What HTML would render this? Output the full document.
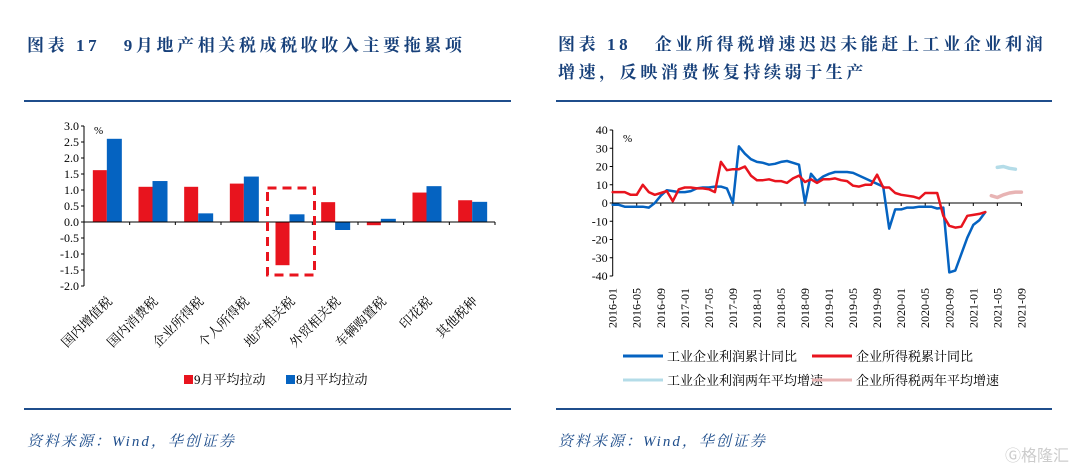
<!DOCTYPE html>
<html><head><meta charset="utf-8">
<style>
body{margin:0;width:1080px;height:469px;background:#fff;overflow:hidden;position:relative;font-family:"Liberation Serif","Noto Serif CJK SC",serif;}
.t{position:absolute;color:#17407a;font-weight:bold;font-size:17px;letter-spacing:3.6px;white-space:nowrap;font-family:"Liberation Serif","Noto Serif CJK SC",serif;}
.hr{position:absolute;height:2px;background:#1f4e8c;}
.src{position:absolute;color:#1f4e8c;font-style:italic;font-size:15px;letter-spacing:2px;font-family:"Liberation Serif","Noto Serif CJK SC",serif;}
svg text{font-family:"Liberation Serif","Noto Serif CJK SC",serif;}
</style></head><body>
<div class="t" style="left:27px;top:31px">图表 17&nbsp;&nbsp;&nbsp;9月地产相关税成税收收入主要拖累项</div>
<div class="t" style="left:558px;top:31px;line-height:28px">图表 18&nbsp;&nbsp;&nbsp;企业所得税增速迟迟未能赶上工业企业利润<br>增速，反映消费恢复持续弱于生产</div>
<div class="hr" style="left:24px;top:100px;width:487px"></div>
<div class="hr" style="left:556px;top:100px;width:496px"></div>
<div class="hr" style="left:24px;top:408px;width:487px"></div>
<div class="hr" style="left:556px;top:408px;width:496px"></div>
<div class="src" style="left:27px;top:430px">资料来源：Wind，华创证券</div>
<div class="src" style="left:558px;top:430px">资料来源：Wind，华创证券</div>
<div style="position:absolute;left:1005px;top:442px;color:#ccc;font-size:16px;font-family:'Noto Sans CJK SC',sans-serif">Ⓖ格隆汇</div>
<svg id="c1" width="540" height="409" style="position:absolute;left:0;top:0"></svg>
<svg id="c2" width="540" height="409" style="position:absolute;left:540px;top:0"></svg>
<script>
const cats=["国内增值税","国内消费税","企业所得税","个人所得税","地产相关税","外贸相关税","车辆购置税","印花税","其他税种"];
const sepVals=[1.62,1.1,1.1,1.2,-1.35,0.62,-0.1,0.92,0.68];
const augVals=[2.6,1.28,0.27,1.42,0.24,-0.25,0.1,1.12,0.63];
const yTicks1=["3.0","2.5","2.0","1.5","1.0","0.5","0.0","-0.5","-1.0","-1.5","-2.0"];

const months=[];for(let y=2016;y<=2021;y++)for(let m=1;m<=12;m++){if(y==2021&&m>9)break;months.push(y+"-"+String(m).padStart(2,"0"));}
const profit=[-1,-1,-2,-2,-2,-2,-2.5,0,4,7,6.5,6,6,6.5,8,8.5,8.5,9,9,8,0,31,27,24,22.5,22,21,21.5,22.5,23,22,21,0,16,12,14.5,16,17,17,17,16.5,15,13.5,12,10.5,9,-14,-3.5,-3.5,-2.5,-2.5,-2,-2,-2,-3,-2.5,-38,-37,-28,-19,-12,-9.5,-5];
const tax=[6,6,6,4.5,4.5,10,6,4.5,5.5,6.5,1,7.5,8.5,8.5,8,8,7.5,6,22.5,18,18.5,18.5,20,15,12.5,12.5,13,12,12,11,13.5,15,11.5,13,11,13,13,13.5,12.5,12,9.5,9,10,10,15.5,8.5,8.5,5.5,4.5,4,3.5,2.5,5.5,5.5,5.5,-7,-12.5,-13.5,-13,-7,-6.5,-6,-5];
const profit2Start=64;const profit2=[19.5,20,19,18.5];
const tax2Start=63;const tax2=[4,3,4.5,5.5,6,6];
const yTicks2=[40,30,20,10,0,-10,-20,-30,-40];

const NS="http://www.w3.org/2000/svg";
function mk(p,tag,at,txt){const e=document.createElementNS(NS,tag);for(const k in at)e.setAttribute(k,at[k]);if(txt!=null)e.textContent=txt;p.appendChild(e);return e;}

// chart 1
(function(){
const s=document.getElementById('c1');
const x0=84,x1=495,yTop=126,yBot=286,vmax=3,vmin=-2;
const y=v=>yTop+(vmax-v)/(vmax-vmin)*(yBot-yTop);
const bw=(x1-x0)/cats.length;
let e;
e=mk(s,'line',{x1:x0,y1:yTop,x2:x0,y2:yBot,stroke:'#000','stroke-width':1});

yTicks1.forEach(t=>{const v=parseFloat(t);const yy=y(v);
 mk(s,'line',{x1:x0-3,y1:yy,x2:x0,y2:yy,stroke:'#000'});
 e=mk(s,'text',{x:x0-5,y:yy+4,'text-anchor':'end','font-size':12},t);
 });
e=mk(s,'text',{x:94,y:134,'font-size':11},'%');

cats.forEach((c,i)=>{
 const cx=x0+bw*(i+0.5);
 const r=sepVals[i],b=augVals[i];
 e=mk(s,'rect',{x:cx-14,y:Math.min(y(r),y(0)),width:14,height:Math.abs(y(r)-y(0)),fill:'#e8141e'});
 
 e=mk(s,'rect',{x:cx,y:Math.min(y(b),y(0)),width:15,height:Math.abs(y(b)-y(0)),fill:'#0563c1'});
 
 mk(s,'line',{x1:x0+bw*(i+1),y1:y(0),x2:x0+bw*(i+1),y2:y(0)+3,stroke:'#000'});
 e=mk(s,'text',{x:cx+6,y:y(-2)+16,'text-anchor':'end','font-size':13,transform:`rotate(-45 ${cx+6} ${y(-2)+16})`},c);
 
});
e=mk(s,'line',{x1:x0,y1:y(0),x2:x1,y2:y(0),stroke:'#000'});

const hx=x0+bw*4.5;
e=mk(s,'rect',{x:hx-22,y:188,width:47,height:87,fill:'none',stroke:'#e8141e','stroke-width':3,'stroke-dasharray':'9,6'});

e=mk(s,'rect',{x:184,y:375,width:9,height:9,fill:'#e8141e'});
e=mk(s,'text',{x:194,y:384,'font-size':13},'9月平均拉动');
e=mk(s,'rect',{x:286,y:375,width:9,height:9,fill:'#0563c1'});
e=mk(s,'text',{x:296,y:384,'font-size':13},'8月平均拉动');
})();

// chart 2
(function(){
const s=document.getElementById('c2');
const ox=-540;
const x0=612.7+ox,yTop=130,yBot=276,step=6.01;
const x=i=>x0+i*step;
const y=v=>yTop+(40-v)/80*(yBot-yTop);
let e;
e=mk(s,'line',{x1:x0,y1:yTop,x2:x0,y2:yBot,stroke:'#000'});

yTicks2.forEach(v=>{const yy=y(v);
 mk(s,'line',{x1:x0-3,y1:yy,x2:x0,y2:yy,stroke:'#000'});
 e=mk(s,'text',{x:x0-5,y:yy+4,'text-anchor':'end','font-size':12},String(v));
 });
e=mk(s,'text',{x:623+ox,y:142,'font-size':11},'%');
e=mk(s,'line',{x1:x0,y1:y(0),x2:x(months.length-1),y2:y(0),stroke:'#000'});

months.forEach((m,i)=>{if(i%4)return;const xx=x(i);
 mk(s,'line',{x1:xx,y1:y(0),x2:xx,y2:y(0)+3,stroke:'#000'});
 e=mk(s,'text',{x:xx+4,y:288,'text-anchor':'end','font-size':12,transform:`rotate(-90 ${xx+4} 288)`},m);
 });
function line(arr,start,col,w,name){const d=arr.map((v,i)=>(i?'L':'M')+x(start+i).toFixed(1)+','+y(v).toFixed(1)).join('');
 const p=mk(s,'path',{d:d,fill:'none',stroke:col,'stroke-width':w,'stroke-linejoin':'round','stroke-linecap':'round'});
 }
line(profit,0,'#0563c1',2.5,'profit-line');
line(tax,0,'#e8141e',2.5,'tax-line');
line(profit2,profit2Start,'#b4dce8',3.5,'profit-2yr-line');
line(tax2,tax2Start,'#e8b4b4',3.5,'tax-2yr-line');
const L=[[623,356,'#0563c1','工业企业利润累计同比','legend-profit'],[812,356,'#e8141e','企业所得税累计同比','legend-tax'],[623,380,'#b4dce8','工业企业利润两年平均增速','legend-profit-2yr'],[812,380,'#e8b4b4','企业所得税两年平均增速','legend-tax-2yr']];
L.forEach(l=>{mk(s,'line',{x1:l[0]+ox,y1:l[1],x2:l[0]+40+ox,y2:l[1],stroke:l[2],'stroke-width':3});
 e=mk(s,'text',{x:l[0]+44+ox,y:l[1]+5,'font-size':13},l[3]);});
})();
</script>
</body></html>
